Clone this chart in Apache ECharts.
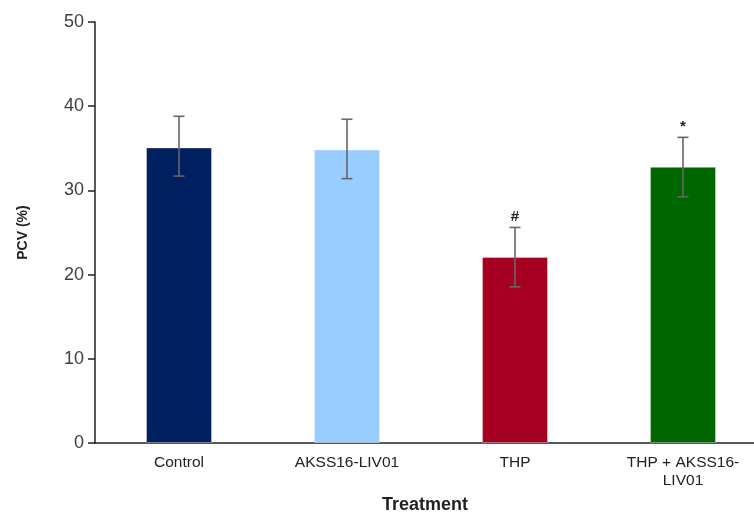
<!DOCTYPE html>
<html><head><meta charset="utf-8">
<script src="https://cdn.jsdelivr.net/npm/echarts@6/dist/echarts.min.js"></script>
<style>html,body{margin:0;padding:0;background:#fff}#c{width:754px;height:513px}</style>
</head><body><div id="c"></div>
<script>
const categories = ["Control", "AKSS16-LIV01", "THP", "THP + AKSS16-\nLIV01"];
const means = [35.1, 34.85, 22.1, 32.8];
const errLow = [31.7, 31.4, 18.55, 29.25];
const errHigh = [38.8, 38.45, 25.6, 36.3];
const marks = ["", "", "#", "*"];
const colors = ["#002060", "#99CCFF", "#A50021", "#006600"];
const yTicks = [0, 10, 20, 30, 40, 50];

const chart = echarts.init(document.getElementById('c'), null, {renderer: 'canvas'});
chart.setOption({
  animation: false,
  backgroundColor: '#fff',
  grid: {left: 95, top: 22, width: 672, height: 421, containLabel: false, outerBoundsMode: 'none'},
  xAxis: {
    type: 'category', data: categories,
    name: 'Treatment', nameLocation: 'middle', nameGap: 53,
    nameTextStyle: {fontFamily: 'Liberation Sans', fontWeight: 'bold', fontSize: 18, color: '#222', padding: [0, 0, 0, -12]},
    axisLine: {lineStyle: {color: '#222', width: 1.5}},
    axisTick: {show: false},
    axisLabel: {fontFamily: 'Liberation Sans', fontSize: 15.5, color: '#222', margin: 11, lineHeight: 18, interval: 0}
  },
  yAxis: {
    type: 'value', min: yTicks[0], max: yTicks[yTicks.length - 1], interval: 10,
    name: 'PCV (%)', nameLocation: 'middle', nameGap: 65, nameRotate: 90,
    nameTextStyle: {fontFamily: 'Liberation Sans', fontWeight: 'bold', fontSize: 14, color: '#222'},
    axisLine: {show: true, lineStyle: {color: '#222', width: 1.5}},
    axisTick: {show: true, inside: false, length: 7, lineStyle: {color: '#222', width: 1.5}},
    axisLabel: {fontFamily: 'Liberation Sans', fontSize: 18, color: '#404040', margin: 11},
    splitLine: {show: false}
  },
  series: [
    {
      type: 'bar', barWidth: 66,
      data: means.map((v, i) => ({value: v, itemStyle: {color: colors[i], borderColor: 'rgba(255,255,255,0.35)', borderWidth: 1}}))
    },
    {
      type: 'custom',
      data: means.map((v, i) => [i, errLow[i], errHigh[i]]),
      renderItem: function (params, api) {
        const i = api.value(0);
        const lo = api.coord([i, api.value(1)]);
        const hi = api.coord([i, api.value(2)]);
        const cap = 5.5;
        const st = {stroke: '#666', lineWidth: 1.6};
        const children = [
          {type: 'line', shape: {x1: hi[0], y1: hi[1], x2: lo[0], y2: lo[1]}, style: st},
          {type: 'line', shape: {x1: hi[0] - cap, y1: hi[1], x2: hi[0] + cap, y2: hi[1]}, style: st},
          {type: 'line', shape: {x1: lo[0] - cap, y1: lo[1], x2: lo[0] + cap, y2: lo[1]}, style: st}
        ];
        const m = marks[params.dataIndex];
        if (m) {
          children.push({type: 'text', x: hi[0], y: hi[1] - 3,
            style: {text: m, fill: '#222', font: 'bold 15px "Liberation Sans"', align: 'center', verticalAlign: 'bottom'}});
        }
        return {type: 'group', children: children};
      },
      z: 5
    }
  ]
});
</script></body></html>
